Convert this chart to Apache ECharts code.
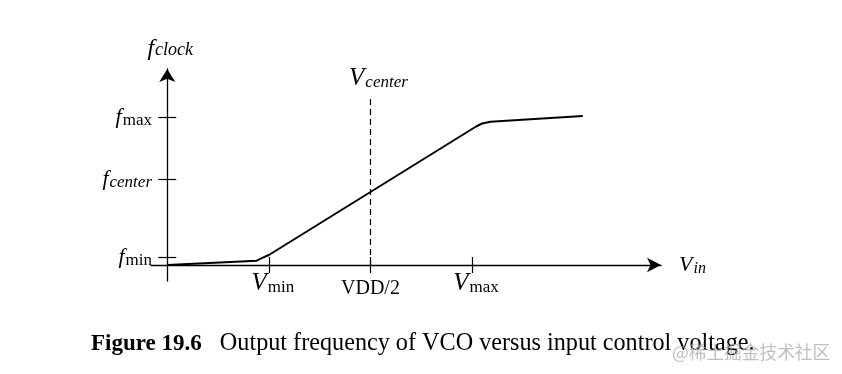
<!DOCTYPE html>
<html>
<head>
<meta charset="utf-8">
<script src="https://cdn.jsdelivr.net/npm/echarts@6/dist/echarts.min.js"></script>
<style>
html,body{margin:0;padding:0;background:#fff;}
#chart{width:842px;height:374px;}
</style>
</head>
<body>
<div id="chart"></div>
<script>
// ---- data ----
const vin  = [0, 0.88, 0.93, 1.0, 3.04, 3.10, 3.18, 4.09];
const fclk = [0, 4.3, 6.8, 10, 138.5, 141.5, 143.3, 149];
const xTickValues = [1, 2, 3];
const xTickLabels = ['{v|V}{s|min}', '{n|VDD/2}', '{v|V}{s|max}'];
const yTickValues = [8, 86, 148];
const yTickLabels = ['{f|f}{s|min}', '{f|f}{si|center}', '{f|f}{s|max}'];
const vCenter = 2;
const vCenterTop = 170;
const captionBold = 'Figure 19.6';
const captionText = 'Output frequency of VCO versus input control voltage.';
const watermark = '@稀土掘金技术社区';

const serif = '"Liberation Serif","Times New Roman",serif';
const richY = {
  f: {fontFamily: serif, fontStyle: 'italic', fontSize: 22, color: '#000'},
  s: {fontFamily: serif, fontSize: 17, color: '#000', padding: [8, 0, 0, 1]},
  si: {fontFamily: serif, fontStyle: 'italic', fontSize: 17, color: '#000', padding: [8, 0, 0, 1]}
};
const richX = {
  v: {fontFamily: serif, fontStyle: 'italic', fontSize: 25, color: '#000', padding: [0, 0, 0, 8]},
  s: {fontFamily: serif, fontSize: 17, color: '#000', padding: [8, 0, 0, 1]},
  n: {fontFamily: serif, fontSize: 20, color: '#000', padding: [8, 0, 0, 0]}
};
const xLab = {}; xTickValues.forEach((v, i) => xLab[v] = xTickLabels[i]);
const yLab = {}; yTickValues.forEach((v, i) => yLab[v] = yTickLabels[i]);

const chart = echarts.init(document.getElementById('chart'), null, {renderer: 'canvas'});
const axisColor = '#000';
const option = {
  animation: false,
  backgroundColor: '#fff',
  title: [{
    left: 91, top: 332, padding: 0,
    text: '{b|' + captionBold + '}{r|   ' + captionText + '}',
    textStyle: {
      fontWeight: 'normal',
      rich: {
        b: {fontFamily: serif, fontWeight: 'bold', fontSize: 23, color: '#000'},
        r: {fontFamily: serif, fontWeight: 'normal', fontSize: 24.2, color: '#000'}
      }
    }
  }, {
    left: 672, top: 343, padding: 0,
    text: watermark,
    textStyle: {fontFamily: '"Noto Sans CJK SC",sans-serif', fontSize: 17.7, fontWeight: 'normal', color: 'rgba(170,170,170,0.75)'}
  }],
  grid: {left: 151, width: 510, top: 69, bottom: 93, containLabel: false},
  xAxis: [{
    type: 'value', min: -0.16, max: 4.86,
    splitLine: {show: false},
    axisLine: {show: true, onZero: true, onZeroAxisIndex: 0, symbol: ['none', 'arrow'], symbolSize: [11, 14],
      lineStyle: {color: axisColor, width: 1.3}},
    axisTick: {show: true, customValues: xTickValues, length: 8, lineStyle: {color: axisColor, width: 1.2}},
    axisLabel: {show: true, customValues: xTickValues, margin: -10, formatter: v => xLab[v] || '', rich: richX},
    name: '{v|V}{si|in}', nameLocation: 'end', nameGap: 18,
    nameTextStyle: {rich: {v: {fontFamily: serif, fontStyle: 'italic', fontSize: 22, color: '#000'},
      si: {fontFamily: serif, fontStyle: 'italic', fontSize: 16, color: '#000', padding: [8, 0, 0, 1]}}}
  }, {
    type: 'value', min: -0.16, max: 4.86, position: 'top',
    splitLine: {show: false},
    axisLine: {show: false, onZero: true, onZeroAxisIndex: 0},
    axisTick: {show: true, customValues: xTickValues, length: 8, lineStyle: {color: axisColor, width: 1.2}},
    axisLabel: {show: false}
  }],
  yAxis: [{
    type: 'value', min: -16, max: 196,
    splitLine: {show: false},
    axisLine: {show: true, onZero: true, onZeroAxisIndex: 0, symbol: ['none', 'arrow'], symbolSize: [12, 13],
      lineStyle: {color: axisColor, width: 1.3}},
    axisTick: {show: true, customValues: yTickValues, length: 9, lineStyle: {color: axisColor, width: 1.2}},
    axisLabel: {show: true, customValues: yTickValues, margin: -1, formatter: v => yLab[v] || '', rich: richY},
    name: '{f|f}{si|clock}', nameLocation: 'end', nameGap: 8,
    nameTextStyle: {align: 'center', padding: [0, 0, 0, 6], rich: {f: {fontFamily: serif, fontStyle: 'italic', fontSize: 24, color: '#000'},
      si: {fontFamily: serif, fontStyle: 'italic', fontSize: 18, color: '#000', padding: [2, 0, 0, 1]}}}
  }, {
    type: 'value', min: -16, max: 196, position: 'right',
    splitLine: {show: false},
    axisLine: {show: false, onZero: true, onZeroAxisIndex: 0},
    axisTick: {show: true, customValues: yTickValues, length: 9, lineStyle: {color: axisColor, width: 1.2}},
    axisLabel: {show: false}
  }],
  series: [{
    type: 'line',
    data: vin.map((v, i) => [v, fclk[i]]),
    showSymbol: false,
    smooth: false,
    lineStyle: {color: '#000', width: 2},
    markLine: {
      silent: true,
      symbol: ['none', 'none'],
      lineStyle: {color: '#000', width: 1.2, type: [6, 4]},
      label: {show: true, position: 'end', distance: 4,
        formatter: '{v|V}{si|center}',
        rich: {v: {fontFamily: serif, fontStyle: 'italic', fontSize: 25, color: '#000', padding: [0, 0, 0, 16]},
          si: {fontFamily: serif, fontStyle: 'italic', fontSize: 17, color: '#000', padding: [8, 0, 0, 1]}}},
      data: [[{coord: [vCenter, 0]}, {coord: [vCenter, vCenterTop]}]]
    }
  }]
};
chart.setOption(option);
</script>
</body>
</html>
